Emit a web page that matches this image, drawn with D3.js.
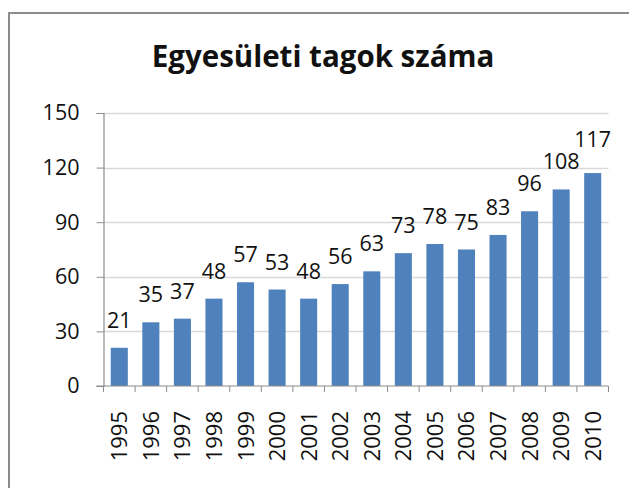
<!DOCTYPE html>
<html>
<head>
<meta charset="utf-8">
<script src="https://cdn.jsdelivr.net/npm/d3@7"></script>
<style>
  body { margin: 0; background: #fff; }
  svg text { font-family: "Open Sans", sans-serif; fill: #111; }
</style>
</head>
<body>
<div id="chart"></div>
<script>
// data
var years = ["1995", "1996", "1997", "1998", "1999", "2000", "2001", "2002",
    "2003", "2004", "2005", "2006", "2007", "2008", "2009", "2010"];
var members = [21, 35, 37, 48, 57, 53, 48, 56, 63, 73, 78, 75, 83, 96, 108, 117];
var yTicks = [0, 30, 60, 90, 120, 150];
var title = "Egyesületi tagok száma";

var width = 629, height = 488;
var margin = {left: 103.5, right: 20.5, top: 113, bottom: 102};

var svg = d3.select("#chart").append("svg")
    .attr("width", width)
    .attr("height", height);

// outer frame
svg.append("rect")
    .attr("x", 9).attr("y", 13)
    .attr("width", width + 10).attr("height", height + 10)
    .attr("fill", "none")
    .attr("stroke", "#8c8c8c")
    .attr("stroke-width", 2);

svg.append("text")
    .attr("x", 323).attr("y", 67)
    .attr("text-anchor", "middle")
    .style("font-size", "29.5px")
    .style("font-weight", "bold")
    .text(title);

var x = d3.scaleBand()
    .domain(years)
    .range([margin.left, width - margin.right])
    .paddingInner(0.46)
    .paddingOuter(0.23);

var y = d3.scaleLinear()
    .domain([0, 150])
    .range([height - margin.bottom, margin.top]);

// gridlines
svg.append("g").selectAll("line")
    .data(yTicks.filter(function(d) { return d > 0; }))
    .enter().append("line")
    .attr("x1", margin.left).attr("x2", width - margin.right)
    .attr("y1", function(d) { return Math.round(y(d)) + 0.5; })
    .attr("y2", function(d) { return Math.round(y(d)) + 0.5; })
    .attr("stroke", "#d9d9d9")
    .attr("stroke-width", 1.5);

// bars
svg.append("g").selectAll("rect")
    .data(members)
    .enter().append("rect")
    .attr("x", function(d, i) { return x(years[i]); })
    .attr("y", function(d) { return y(d); })
    .attr("width", x.bandwidth())
    .attr("height", function(d) { return y(0) - y(d); })
    .attr("fill", "#4f81bd");

// y axis
var yAxis = svg.append("g")
    .attr("transform", "translate(" + margin.left + ",0)")
    .call(d3.axisLeft(y).tickValues(yTicks).tickSize(7).tickPadding(17));
yAxis.select(".domain").attr("stroke", "#8c8c8c").attr("stroke-width", 1.2);
yAxis.selectAll(".tick line").attr("stroke", "#8c8c8c");
yAxis.selectAll(".tick text").style("font-size", "21.5px").attr("fill", "#111");

// x axis: ticks on band boundaries
var xg = svg.append("g");
xg.append("line")
    .attr("x1", margin.left - 7).attr("x2", width - margin.right)
    .attr("y1", y(0)).attr("y2", y(0))
    .attr("stroke", "#8c8c8c").attr("stroke-width", 1.2);
var bounds = d3.range(years.length + 1).map(function(i) { return margin.left + i * (width - margin.left - margin.right) / years.length; });
xg.selectAll("line.tk")
    .data(bounds)
    .enter().append("line")
    .attr("class", "tk")
    .attr("x1", function(d) { return d; }).attr("x2", function(d) { return d; })
    .attr("y1", y(0)).attr("y2", y(0) + 6)
    .attr("stroke", "#8c8c8c");
xg.selectAll("text")
    .data(years)
    .enter().append("text")
    .attr("transform", function(d) {
        return "translate(" + (x(d) + x.bandwidth() / 2 + 8) + "," + (y(0) + 25) + ") rotate(-90)";
    })
    .attr("text-anchor", "end")
    .style("font-size", "22px")
    .text(function(d) { return d; });

// value labels, pushed up if they collide with the previous one
var prev = null;
svg.append("g").selectAll("text")
    .data(members)
    .enter().append("text")
    .attr("x", function(d, i) { return x(years[i]) + x.bandwidth() / 2; })
    .attr("y", function(d) { return y(d) - 20; })
    .attr("text-anchor", "middle")
    .style("font-size", "21.5px")
    .text(function(d) { return d; })
    .each(function() {
        var b = this.getBBox();
        if (prev && b.x < prev.x + prev.width && b.y + b.height > prev.y) {
            d3.select(this).attr("y", prev.y + 1);
            b = this.getBBox();
        }
        prev = b;
    });
</script>
</body>
</html>
